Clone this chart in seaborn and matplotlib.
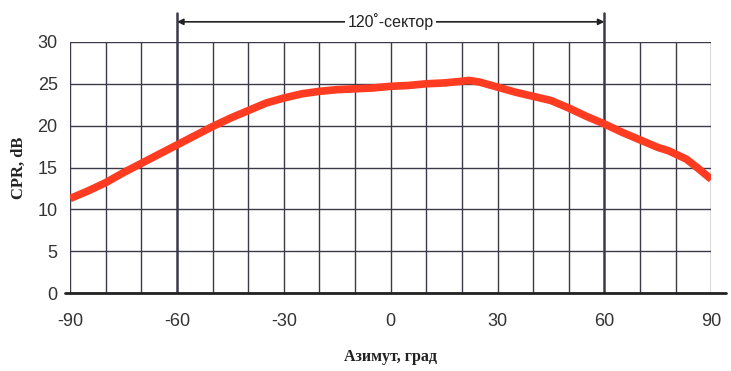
import numpy as np
import pandas as pd
import matplotlib
matplotlib.use("Agg")
import matplotlib.pyplot as plt
import seaborn as sns

azimuth = [-90, -85, -80, -75, -70, -65, -60, -55, -50, -45, -40, -35, -30, -25, -20,
           -15, -10, -5, 0, 5, 10, 15, 20, 22, 25, 30, 35, 40, 45, 50, 55, 60, 65, 70,
           75, 78, 80, 83, 86, 90]
cpr = [11.3, 12.2, 13.2, 14.4, 15.5, 16.6, 17.7, 18.8, 19.9, 20.9, 21.8, 22.7, 23.3,
       23.8, 24.1, 24.3, 24.4, 24.5, 24.7, 24.8, 25.0, 25.1, 25.3, 25.4, 25.2, 24.6,
       24.0, 23.5, 23.0, 22.1, 21.1, 20.2, 19.2, 18.3, 17.4, 17.0, 16.6, 16.0, 15.0, 13.6]
x_ticks = [-90, -60, -30, 0, 30, 60, 90]
y_ticks = [0, 5, 10, 15, 20, 25, 30]
sector_label = "120˚-сектор"
x_label = "Азимут, град"
y_label = "CPR, dB"

df = pd.DataFrame({"az": azimuth, "cpr": cpr})

sns.set_style("white")
plt.rcParams["font.family"] = ["Liberation Sans", "DejaVu Sans"]
plt.rcParams["axes.unicode_minus"] = False

fig = plt.figure(figsize=(7.31, 3.71), dpi=100)
ax = fig.add_axes([0.096, 0.21, 0.877, 0.677])

# grid
grid_col = "#3a3a4a"
for gx in range(-90, 91, 10):
    lw = 1.8 if gx in (-60, 60) else 1.0
    ax.axvline(gx, color=grid_col, lw=lw, zorder=1)
for gy in y_ticks:
    ax.axhline(gy, color=grid_col, lw=1.0, zorder=1)

sns.lineplot(data=df, x="az", y="cpr", ax=ax, color="#ff3b22", lw=5.5, zorder=3,
             solid_capstyle="butt")

ax.set_xlim(-90, 90)
ax.set_ylim(0, 30)
ax.set_xticks(x_ticks)
ax.set_yticks(y_ticks)
ax.set_xticks(range(-90, 91, 10), minor=True)
ax.tick_params(axis="both", which="major", labelsize=13, colors="#333333",
               length=5, width=1.2, direction="out")
ax.tick_params(axis="x", which="both", direction="inout", length=8, pad=10)
ax.tick_params(axis="y", which="major", pad=4)
for s in ax.spines.values():
    s.set_visible(False)
# bottom axis line extending slightly past the plot
ax.plot([-91.5, 94], [0, 0], color="#222222", lw=2, clip_on=False, zorder=4)

ax.set_xlabel(x_label, fontfamily="Liberation Serif", fontweight="bold", fontsize=11.5,
              labelpad=14, color="#222222")
ax.set_ylabel(y_label, fontfamily="Liberation Serif", fontweight="bold", fontsize=12,
              labelpad=8, color="#222222")

# sector markers above the plot
for sx in (-60, 60):
    ax.plot([sx, sx], [30, 33.4], color=grid_col, lw=1.8, clip_on=False, zorder=2)
ax.annotate("", xy=(-60, 32.4), xytext=(60, 32.4),
            arrowprops=dict(arrowstyle="<|-|>", color="#222222", lw=1.2,
                            mutation_scale=9, shrinkA=0, shrinkB=0),
            annotation_clip=False)
ax.text(0, 32.4, sector_label, ha="center", va="center", fontsize=11.5,
        color="#222222", bbox=dict(facecolor="white", edgecolor="none", pad=2),
        clip_on=False)

fig.savefig("out.png", dpi=100)
